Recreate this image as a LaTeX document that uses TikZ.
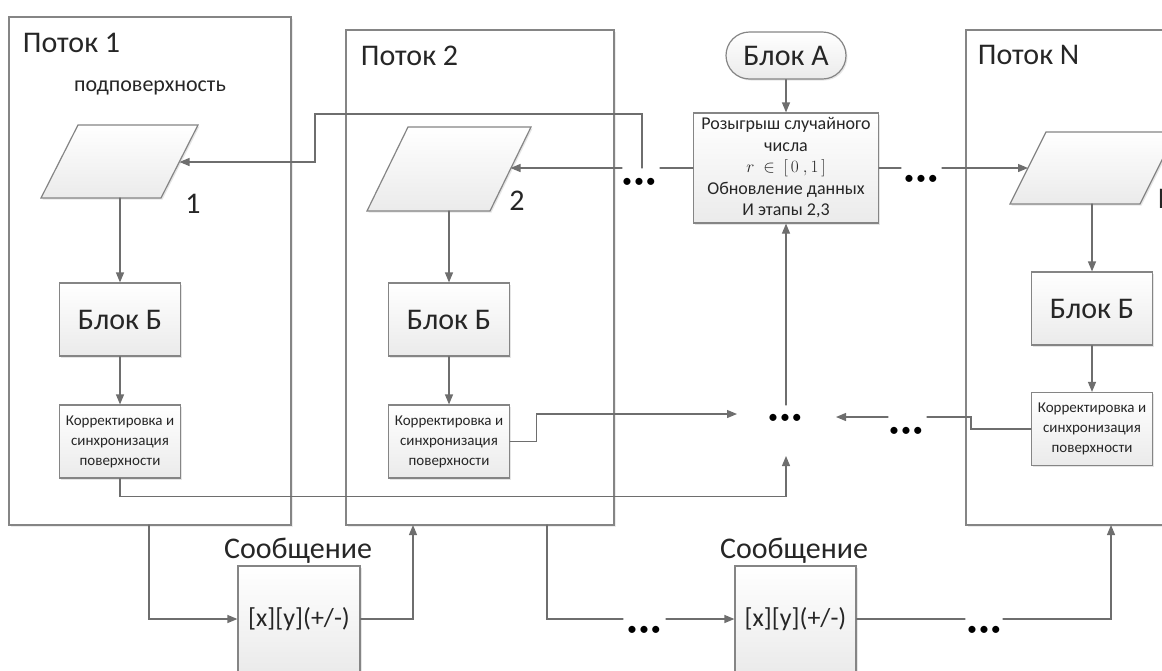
\documentclass[tikz,border=0pt]{standalone}
\usepackage{fontspec}
\setmainfont{Carlito}
\usetikzlibrary{arrows.meta,shadows}

\definecolor{linegray}{HTML}{6E6E6E}
\definecolor{edgegray}{HTML}{858585}
\definecolor{textgray}{HTML}{262626}

\begin{document}
\begin{tikzpicture}[%
        x = 1pt,
        y = -1pt,
        line width = 1.2pt,
        line cap = round,
        font = \fontsize{30}{34}\selectfont,
        text = textgray,
        conn/.style = {draw = linegray},
        arr/.style = {draw = linegray, -{Triangle[length=10pt, width=8pt]}},
        potok/.style = {
            draw = edgegray,
            fill = white,
            line width = 1.4pt,
            inner sep = 0pt,
            drop shadow = {shadow xshift=1.5pt, shadow yshift=-1.5pt, opacity=0.15}
        },
        block/.style = {
            draw = edgegray,
            top color = white,
            bottom color = gray!16,
            inner sep = 0pt,
            align = center,
            drop shadow = {shadow xshift=1.5pt, shadow yshift=-1.5pt, opacity=0.2}
        },
        small/.style = {font = \fontsize{15}{20}\selectfont},
        dots/.style = {font = \fontsize{20}{20}\selectfont, inner sep = 0pt, text = black}
    ]

        \useasboundingbox (0,0) rectangle (1162,670);

        % Thread frames and their titles.
        \node[potok, minimum width=282pt, minimum height=508pt] (potok1) at (150,271) {};
        \node[potok, minimum width=268pt, minimum height=495pt] (potok2) at (480,277.5) {};
        \node[potok, minimum width=230pt, minimum height=495pt] (potokN) at (1081,277.5) {};

        \node[anchor=west] (title1) at (19,43) {Поток 1};
        \node[anchor=west] (title2) at (357,56) {Поток 2};
        \node[anchor=west] (titleN) at (974,55) {Поток N};
        \node[font=\fontsize{22}{26}\selectfont] (sub1) at (150,88) {подповерхность};

        % Input parallelograms.
        \draw[block] (78,125) -- (198,125) -- (161,198) -- (41,198) -- cycle;
        \draw[block] (408,127) -- (531,127) -- (490,211) -- (367,211) -- cycle;
        \draw[block] (1046,132) -- (1176,132) -- (1140,204) -- (1010,204) -- cycle;
        \coordinate (p1e) at (179.5,162);
        \coordinate (p1s) at (120,198);
        \coordinate (p2e) at (510.5,168);
        \coordinate (p2s) at (449,211);
        \coordinate (pNw) at (1028,168);
        \coordinate (pNs) at (1092,204);
        \node (num1) at (193,204) {1};
        \node (num2) at (517,201) {2};
        \node[anchor=west] (numN) at (1154,199) {N};

        % Blocks inside the threads.
        \begin{scope}[minimum width=121pt, minimum height=73pt]
            \node[block] (bb1) at (120,319.5) {Блок Б};
            \node[block] (bb2) at (449,319.5) {Блок Б};
            \node[block] (bbN) at (1092,308.5) {Блок Б};
            \node[block, small] (kor1) at (120,441.5) {Корректировка и\\синхронизация\\поверхности};
            \node[block, small] (kor2) at (449,441.5) {Корректировка и\\синхронизация\\поверхности};
            \node[block, small] (korN) at (1092,429) {Корректировка и\\синхронизация\\поверхности};
        \end{scope}

        % Central blocks.
        \node[block, rounded corners=23.5pt, minimum width=120pt, minimum height=47pt] (blokA) at (786,55.5) {Блок А};
        \node[block, font=\fontsize{18}{21.5}\selectfont, minimum width=185pt, minimum height=110pt] (rozy) at (786,168)
            {Розыгрыш случайного\\числа\\$r\ \in\ [\,0\ ,1\,]$\\Обновление данных\\И этапы 2,3};

        % Messages.
        \node[block, font=\fontsize{26}{30}\selectfont, minimum width=122pt, minimum height=106pt] (msg1) at (299,619) {[x][y](+/-)};
        \node[block, font=\fontsize{26}{30}\selectfont, minimum width=121pt, minimum height=106pt] (msg2) at (795.5,619) {[x][y](+/-)};
        \node (cap1) at (298,551) {Сообщение};
        \node (cap2) at (794,551) {Сообщение};

        % Ellipses standing for the threads in between.
        \node[dots] (dotsL) at (639,183) {\textbullet\hspace{2pt}\textbullet\hspace{2pt}\textbullet};
        \node[dots] (dotsR) at (921,180) {\textbullet\hspace{2pt}\textbullet\hspace{2pt}\textbullet};
        \node[dots] (dotsC) at (785,419) {\textbullet\hspace{2pt}\textbullet\hspace{2pt}\textbullet};
        \node[dots] (dotsK) at (906,432) {\textbullet\hspace{2pt}\textbullet\hspace{2pt}\textbullet};
        \node[dots] (dotsM1) at (644,631) {\textbullet\hspace{2pt}\textbullet\hspace{2pt}\textbullet};
        \node[dots] (dotsM2) at (984,631) {\textbullet\hspace{2pt}\textbullet\hspace{2pt}\textbullet};

        % Free ends next to the ellipses.
        \coordinate (gL1) at (660,168);
        \coordinate (gL2) at (622,168);
        \coordinate (gV) at (642,168);
        \coordinate (gR1) at (901,168);
        \coordinate (gR2) at (942,168);
        \coordinate (cT) at (786,405);
        \coordinate (cB) at (786,456);
        \coordinate (cL) at (737,414);
        \coordinate (cR1) at (927,417);
        \coordinate (cR2) at (888,417);
        \coordinate (cR) at (836,417);
        \coordinate (o1) at (149,525);
        \coordinate (i2) at (413,525);
        \coordinate (o2) at (547,525);
        \coordinate (iN) at (1111,525);
        \coordinate (m1a) at (623,619);
        \coordinate (m1b) at (666,619);
        \coordinate (m2a) at (965,619);
        \coordinate (m2b) at (1003,619);

        % Block A and the random draw.
        \draw[arr] (blokA.south) -- (rozy.north);
        \draw[conn] (rozy.west) -- (gL1);
        \draw[arr] (gL2) -- (p2e);
        \draw[arr] (gV) -- (642,114) -| (315,162) -- (p1e);
        \draw[conn] (rozy.east) -- (gR1);
        \draw[arr] (gR2) -- (pNw);

        % Inside the threads.
        \draw[arr] (p1s) -- (bb1.north);
        \draw[arr] (p2s) -- (bb2.north);
        \draw[arr] (pNs) -- (bbN.north);
        \draw[arr] (bb1.south) -- (kor1.north);
        \draw[arr] (bb2.south) -- (kor2.north);
        \draw[arr] (bbN.south) -- (korN.north);

        % Gathering the corrections.
        \draw[arr] (kor1.south) -- ++(0,18) -| (cB);
        \draw[arr] (kor2.east) -- ++(26,0) |- (cL);
        \draw[conn] (korN.west) -- ++(-60,0) |- (cR1);
        \draw[arr] (cR2) -- (cR);
        \draw[arr] (cT) -- (rozy.south);

        % Messages between the threads.
        \draw[arr] (o1) |- (msg1.west);
        \draw[arr] (msg1.east) -| (i2);
        \draw[conn] (o2) |- (m1a);
        \draw[arr] (m1b) -- (msg2.west);
        \draw[conn] (msg2.east) -- (m2a);
        \draw[arr] (m2b) -| (iN);
    \end{tikzpicture}
\end{document}
